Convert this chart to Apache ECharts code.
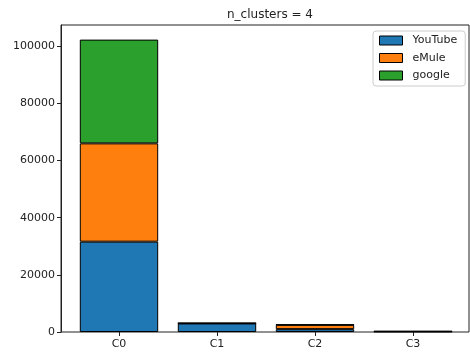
<!DOCTYPE html>
<html>
<head>
<meta charset="utf-8">
<script src="https://cdn.jsdelivr.net/npm/echarts@6/dist/echarts.min.js"></script>
<style>html,body{margin:0;padding:0;background:#fff;}#c{width:470px;height:354px;}</style>
</head>
<body>
<div id="c"></div>
<script>
var categories = ['C0', 'C1', 'C2', 'C3'];
var youtube = [31600, 3000, 1000, 150];
var emule = [34400, 50, 1500, 50];
var google = [36300, 80, 100, 100];
var yTicks = [0, 20000, 40000, 60000, 80000, 100000];
var yMax = 107415;

var chart = echarts.init(document.getElementById('c'));
var font = 'DejaVu Sans';
function bar(name, data, color) {
  return {
    name: name, type: 'bar', stack: 'total', data: data,
    xAxisIndex: 1, yAxisIndex: 1, barWidth: '80%',
    itemStyle: { color: color, borderColor: '#000', borderWidth: 1 },
    emphasis: { disabled: true }, animation: false
  };
}
chart.setOption({
  animation: false,
  title: { text: 'n_clusters = 4', left: 265, top: 4, textAlign: 'center',
    textStyle: { fontFamily: font, fontSize: 12, fontWeight: 'normal', color: '#222' } },
  legend: {
    data: ['YouTube', 'eMule', 'google'], orient: 'vertical',
    left: 373, top: 31, itemWidth: 23, itemHeight: 9, itemGap: 6.5,
    padding: [4, 8, 5, 6], borderColor: '#ccc', borderWidth: 1, borderRadius: 3,
    backgroundColor: '#fff',
    textStyle: { fontFamily: font, fontSize: 11, color: '#222', padding: [0, 0, 0, 5] },
    itemStyle: { borderColor: '#000', borderWidth: 1 },
    icon: 'rect', selectedMode: false
  },
  grid: [
    { left: 61, right: 1, top: 25, bottom: 22, show: true, borderColor: '#222', borderWidth: 1, backgroundColor: 'transparent' },
    { left: 70, right: 8, top: 25, bottom: 22 }
  ],
  xAxis: [
    { gridIndex: 0, type: 'value', min: 0, max: 1, show: false },
    { gridIndex: 1, type: 'category', data: categories, boundaryGap: true,
      axisLine: { show: false },
      axisTick: { show: true, alignWithLabel: true, length: 4, lineStyle: { color: '#222' } },
      axisLabel: { fontFamily: font, fontSize: 11, color: '#222', margin: 7 } }
  ],
  yAxis: [
    { gridIndex: 0, type: 'value', min: 0, max: yMax, interval: 20000,
      axisLine: { show: true, lineStyle: { color: '#222' } },
      axisTick: { show: true, length: 4, lineStyle: { color: '#222' } },
      splitLine: { show: false },
      axisLabel: { fontFamily: font, fontSize: 11, color: '#222', margin: 6,
        showMaxLabel: false,
        formatter: function (v) { return yTicks.indexOf(v) >= 0 ? String(v) : ''; } } },
    { gridIndex: 1, type: 'value', min: 0, max: yMax, show: false }
  ],
  series: [
    bar('YouTube', youtube, '#1f77b4'),
    bar('eMule', emule, '#ff7f0e'),
    bar('google', google, '#2ca02c')
  ]
});
</script>
</body>
</html>
